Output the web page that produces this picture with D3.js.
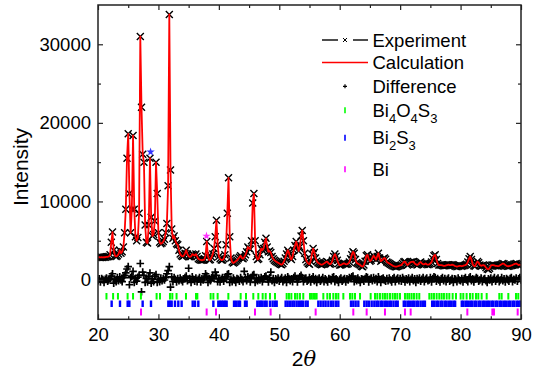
<!DOCTYPE html>
<html><head><meta charset="utf-8">
<script src="https://cdn.jsdelivr.net/npm/d3@7"></script>
<style>body{margin:0;background:#fff}svg{display:block}</style>
</head><body><svg id="c" width="537" height="370"></svg>
<script>
// ---------- data ----------
const angleStart = 20, angleEnd = 90, angleStep = 0.2;
// calculated (≈ observed) intensity on a 0.2° grid, 20°..90°
const calculated = [
2900,2900,2880,2900,2870,2900,2900,2950,2950,3000,
3200,4800,6100,3800,3100,3000,3100,3300,3800,3400,
3600,4200,6000,9000,15500,18600,11000,6000,9000,18400,
9000,5500,5000,5400,8500,31000,22000,16000,15000,7000,
4800,4700,7000,15500,8000,5600,5800,7500,15000,11000,
6000,4800,4600,4700,4900,5200,6000,7200,12000,33800,
14000,6500,5300,5600,5000,4600,4500,3800,3300,3100,
3000,3100,3400,3800,3300,3000,2950,3000,3300,3200,
3100,3300,3000,2700,2600,2550,2500,2550,2600,3100,
4900,3000,2550,2600,2900,3300,4000,5500,7600,4500,
3000,2700,2550,2550,2700,3200,4500,8500,13000,5500,
2800,2300,2160,2250,2400,2500,2700,2900,3100,2800,
2700,2900,3200,3600,4200,4000,3900,5000,9800,11000,
5000,3000,2600,2700,3200,4000,3800,4000,4800,5300,
4200,3600,3700,3500,3000,2700,2500,2400,2300,2200,
2100,2000,1950,2100,2400,2800,3300,3800,3500,2800,
2600,3000,3800,4400,4900,4400,3700,4200,5600,6300,
5000,3400,2600,2300,2100,2000,2400,3300,4000,3500,
2800,2400,2200,2100,2000,1950,2000,2100,2200,2350,
2300,2100,2000,2100,2500,3000,3300,3000,2500,2100,
1900,1900,2000,2100,2100,2000,2000,2100,2300,2700,
3200,3600,3400,2600,2200,2100,2000,1900,1750,1700,
1900,2400,3100,3200,2700,2400,2500,2800,3100,2900,
2600,3000,3400,2800,2400,2500,2700,2800,2650,2300,
2200,2100,2000,1900,1800,1750,1700,1700,1750,1800,
1850,1900,2100,2300,2350,2100,1900,2000,2200,2300,
2300,2350,2100,2000,1900,2000,2200,2300,2100,2000,
2000,2100,2000,1950,2000,2100,2300,2700,3100,3200,
2600,2100,1900,1900,1900,1850,1800,1800,1850,1900,
1950,1900,1900,1950,1900,1800,1750,1700,1750,1800,
1800,1750,1800,1850,1900,2000,2300,2700,3000,2600,
2000,1800,1750,2100,2350,2200,1900,1800,1850,1900,
1800,1600,1400,1350,1500,1800,1900,1900,1850,1800,
1800,1750,1800,1900,2000,2100,2050,1900,1800,1750,
1750,1800,1850,1900,2000,2050,2100,2000,1900,1950,
1900];
// observed points read as coincident with the calculated profile at this scale
const observed = calculated;
// difference (obs - calc), same grid
const difference = [
-100,150,-250,200,50,-300,100,250,-150,0,
200,500,800,-400,100,-200,300,-100,400,0,
-200,300,600,900,1400,1700,-600,300,500,1100,
-300,200,-150,350,600,2100,-1500,1000,600,-300,
200,-250,400,900,-400,150,-200,500,700,-300,
100,-200,250,-100,200,0,300,800,1200,1700,
-900,400,-200,300,100,-250,200,-100,250,0,
-200,150,300,500,-100,1500,200,-300,400,100,
-150,250,-200,100,300,-250,150,0,300,800,
500,-300,200,-100,300,400,200,1000,600,-200,
150,-250,100,300,-150,200,400,700,800,-300,
100,-200,250,0,-300,200,100,-150,300,50,
-200,1100,300,-100,400,200,-250,300,600,700,
-300,150,-100,250,0,300,-200,150,400,500,
100,-250,300,1000,-100,200,-300,150,0,250,
-150,100,300,-200,50,250,-300,400,200,-100,
150,-200,300,500,200,-250,100,400,600,300,
-200,100,250,-150,0,300,-250,150,400,-100,
200,-300,100,250,-150,50,300,-200,150,0,
-250,200,100,-100,300,400,-200,150,0,-300,
100,250,-150,50,200,-250,150,0,300,200,
400,500,-200,100,-100,250,0,-300,150,100,
-150,200,400,300,-250,100,250,-100,300,0,
200,-200,400,100,-300,150,250,0,-150,200,
-100,250,0,-250,150,300,-200,100,250,-100,
200,-150,300,100,-250,150,0,250,-200,100,
300,-100,150,-300,200,0,250,-150,100,300,
-200,100,250,-100,0,300,-250,200,400,300,
-150,200,0,-250,150,300,-100,200,-200,100,
250,-150,0,200,-300,150,100,-200,250,0,
-100,200,-250,150,300,0,-200,250,400,-100,
150,-250,100,300,200,-150,0,250,-200,100,
200,-100,-300,150,0,250,-200,100,300,-150,
100,250,-200,0,300,-100,150,-250,200,50,
-150,200,300,-200,100,0,250,-150,150,300,
0];
// Bragg reflection positions (2θ)
const braggBi4O4S3 = [21.4,22.5,23.3,24.9,25.8,27.1,29.7,30.26,31.91,32.3,33.0,34.56,36.22,36.44,38.64,39.09,39.8,41.57,43.61,44.49,45.7,46.53,47.25,47.75,48.46,49.29,51.22,51.6,52.0,52.6,52.98,53.42,53.97,55.08,55.35,55.63,55.9,56.18,57.29,57.95,58.39,58.94,59.38,59.77,60.6,61.7,62.09,62.53,63.36,65.12,65.84,66.22,66.66,67.11,67.49,67.88,68.32,68.76,69.15,69.53,69.97,70.8,71.19,71.52,71.9,72.29,72.73,73.17,74.83,75.21,75.6,76.04,76.48,76.87,77.25,77.7,78.14,78.69,79.24,80.01,80.45,81.0,81.56,82.0,82.55,82.94,83.49,84.32,86.41,86.8,87.9,89.17,89.55];
const braggBi2S3 = [22.26,23.64,24.91,25.19,27.39,28.77,31.64,31.92,32.19,32.74,33.29,33.84,35.67,36.05,36.6,39.09,39.91,40.19,40.46,40.74,41.02,41.29,42.51,42.84,43.22,43.5,44.33,44.6,46.37,46.7,46.97,47.25,47.64,47.91,48.46,48.9,49.29,49.57,51.05,51.39,51.77,52.16,52.49,52.88,53.26,53.6,53.9,54.36,54.7,56.46,56.85,57.29,57.67,58.12,58.56,58.94,59.38,59.77,61.87,62.25,62.64,63.08,64.07,64.46,64.84,65.29,65.73,66.1,66.4,66.8,67.1,67.5,67.8,68.2,68.5,68.9,69.3,69.6,70.6,70.9,71.3,71.6,72.0,72.3,72.7,73.0,73.4,73.8,74.1,75.3,75.6,76.0,76.3,76.7,77.0,77.4,77.7,78.1,78.4,78.8,79.1,80.2,80.5,80.9,81.2,81.6,81.9,82.3,82.6,83.0,83.3,83.7,84.0,84.4,84.7,85.1,85.4,85.8,86.1,86.5,86.8,87.2,87.5,87.9,88.2,88.6,88.9,89.3,89.6,89.9];
const braggBi = [27.12,37.98,39.53,45.98,48.57,56.02,62.25,64.46,67.49,70.8,71.74,81.12,85.26,85.53,89.45];
// star annotations
const starAngles = [28.7, 37.95];
const starValues = [16300, 5600];
const starColors = ["#3333ff", "#ff33ff"];
// axes
const xTicks = [20,30,40,50,60,70,80,90];
const xMinorTicks = [25,35,45,55,65,75,85];
const yTicks = [0,10000,20000,30000];
const yMinorTicks = [5000,15000,25000];
const legendLabels = ["Experiment","Calculation","Difference"];

// ---------- drawing ----------
const svg = d3.select("#c");
const FONT = "'Liberation Sans', Arial, sans-serif";
const L = 98, R = 521, T = 5, B = 319.3;
const x = d3.scaleLinear().domain([20, 90]).range([L, R]);
const y = d3.scaleLinear().domain([-5000, 35000]).range([B, T]);
const angles = d3.range(calculated.length).map(i => angleStart + i * angleStep);

svg.append("defs").append("clipPath").attr("id","clip")
  .append("rect").attr("x",L).attr("y",T).attr("width",R-L).attr("height",B-T);
const plot = svg.append("g").attr("clip-path","url(#clip)");

const crossPath = s => `M${-s},${-s}L${s},${s}M${-s},${s}L${s},${-s}`;
const plusPath = s => `M${-s},0L${s},0M0,${-s}L0,${s}`;

// difference markers
plot.append("g").selectAll("path").data(difference).join("path")
  .attr("transform",(d,i)=>`translate(${x(angles[i])},${y(d)})`)
  .attr("d", plusPath(3.8)).attr("stroke","#000").attr("stroke-width",1.7).attr("fill","none");
// observed markers
plot.append("g").selectAll("path").data(observed).join("path")
  .attr("transform",(d,i)=>`translate(${x(angles[i])},${y(d)})`)
  .attr("d", crossPath(3.5)).attr("stroke","#000").attr("stroke-width",1.4).attr("fill","none");
// calculated line
plot.append("path").datum(calculated)
  .attr("d", d3.line().x((d,i)=>x(angles[i])).y(d=>y(d)))
  .attr("fill","none").attr("stroke","#ff0000").attr("stroke-width",1.8).attr("stroke-linejoin","round");
// stars
starAngles.forEach((a,i)=>{
  plot.append("path").attr("d", d3.symbol(d3.symbolStar, 22)())
    .attr("transform",`translate(${x(a)},${y(starValues[i])})`).attr("fill",starColors[i]);
});
// Bragg ticks
const rows = [[braggBi4O4S3,"#00ff00",293,299.5,2],[braggBi2S3,"#0000ff",300.5,307,2.4],[braggBi,"#ff00ff",308.5,315.5,2]];
rows.forEach(([arr,col,y0,y1,w])=>{
  plot.append("g").selectAll("line").data(arr).join("line")
    .attr("x1",d=>x(d)).attr("x2",d=>x(d)).attr("y1",y0).attr("y2",y1)
    .attr("stroke",col).attr("stroke-width",w);
});

// axes
const axStyle = g => { g.selectAll(".domain").remove(); g.selectAll("line").attr("stroke","#222").attr("stroke-width",1.2);
  g.selectAll("text").attr("font-family",FONT).attr("font-size","18.5px").attr("fill","#000"); };
svg.append("g").attr("transform",`translate(0,${B})`)
  .call(d3.axisBottom(x).tickValues(xTicks).tickSize(-5).tickPadding(9).tickFormat(d3.format("d"))).call(axStyle);
svg.append("g").attr("transform",`translate(0,${B})`)
  .call(d3.axisBottom(x).tickValues(xMinorTicks).tickSize(-3).tickFormat("")).call(axStyle);
svg.append("g").attr("transform",`translate(0,${T})`)
  .call(d3.axisTop(x).tickValues(xTicks).tickSize(-5).tickFormat("")).call(axStyle);
svg.append("g").attr("transform",`translate(0,${T})`)
  .call(d3.axisTop(x).tickValues(xMinorTicks).tickSize(-3).tickFormat("")).call(axStyle);
svg.append("g").attr("transform",`translate(${L},0)`)
  .call(d3.axisLeft(y).tickValues(yTicks).tickSize(-5).tickPadding(7).tickFormat(d3.format("d"))).call(axStyle);
svg.append("g").attr("transform",`translate(${L},0)`)
  .call(d3.axisLeft(y).tickValues(yMinorTicks).tickSize(-3).tickFormat("")).call(axStyle);
svg.append("g").attr("transform",`translate(${R},0)`)
  .call(d3.axisRight(y).tickValues(yTicks).tickSize(-5).tickFormat("")).call(axStyle);
svg.append("g").attr("transform",`translate(${R},0)`)
  .call(d3.axisRight(y).tickValues(yMinorTicks).tickSize(-3).tickFormat("")).call(axStyle);
svg.append("rect").attr("x",L).attr("y",T).attr("width",R-L).attr("height",B-T)
  .attr("fill","none").attr("stroke","#222").attr("stroke-width",1.5);

// axis titles
svg.append("text").attr("transform","translate(28,167) rotate(-90)").attr("text-anchor","middle")
  .attr("font-family",FONT).attr("font-size","21px").text("Intensity");
const xt = svg.append("text").attr("x",304).attr("y",366).attr("text-anchor","middle")
  .attr("font-family",FONT).attr("font-size","21px");
xt.append("tspan").text("2");
xt.append("tspan").attr("font-style","italic").attr("font-family","'DejaVu Serif', serif").text("θ");

// legend
const lg = svg.append("g");
const lx = 345, tx = 372.5;
const legY = [40, 62.5, 86.3, 110.3, 137.8, 169.3];
// Experiment
lg.append("line").attr("x1",322).attr("x2",338).attr("y1",legY[0]).attr("y2",legY[0]).attr("stroke","#000").attr("stroke-width",1.4);
lg.append("line").attr("x1",353).attr("x2",368).attr("y1",legY[0]).attr("y2",legY[0]).attr("stroke","#000").attr("stroke-width",1.4);
lg.append("path").attr("transform",`translate(${lx},${legY[0]})`).attr("d",crossPath(2)).attr("stroke","#000").attr("stroke-width",1);
// Calculation
lg.append("line").attr("x1",322).attr("x2",368).attr("y1",legY[1]).attr("y2",legY[1]).attr("stroke","#ff0000").attr("stroke-width",1.5);
// Difference
lg.append("path").attr("transform",`translate(${lx},${legY[2]})`).attr("d",plusPath(2)).attr("stroke","#000").attr("stroke-width",1.2);
// phase ticks
[["#00ff00",legY[3]],["#0000ff",legY[4]],["#ff00ff",legY[5]]].forEach(([c,yy])=>{
  lg.append("line").attr("x1",lx).attr("x2",lx).attr("y1",yy-3).attr("y2",yy+3).attr("stroke",c).attr("stroke-width",1.6);
});
const addText = (yy) => lg.append("text").attr("x",tx).attr("y",yy+6.5).attr("font-family",FONT).attr("font-size","18.5px");
legendLabels.forEach((t,i)=> addText(legY[i]).text(t));
function phaseLabel(yy, parts){
  const el = addText(yy);
  let shifted = false;
  parts.forEach(([t,isSub])=>{
    const ts = el.append("tspan").text(t);
    if (isSub) { ts.attr("font-size","13px").attr("dy", shifted ? 0 : 6); shifted = true; }
    else { ts.attr("dy", shifted ? -6 : 0); shifted = false; }
  });
}
phaseLabel(legY[3], [["Bi",0],["4",1],["O",0],["4",1],["S",0],["3",1]]);
phaseLabel(legY[4], [["Bi",0],["2",1],["S",0],["3",1]]);
phaseLabel(legY[5], [["Bi",0]]);
</script></body></html>
